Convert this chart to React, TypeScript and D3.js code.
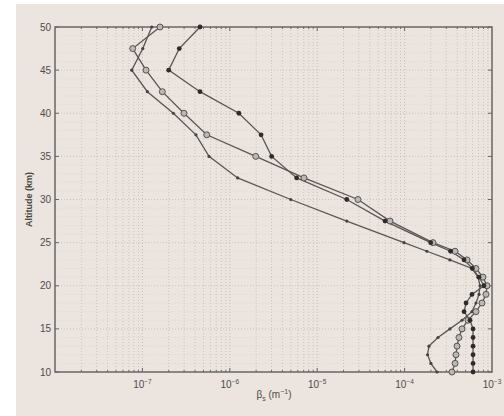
import React from "react";
import * as d3 from "d3";

const altitudes = [50, 47.5, 45, 42.5, 40, 37.5, 35, 32.5, 30, 27.5, 25, 24, 23, 22, 21, 20, 19, 18, 17, 16, 15, 14, 13, 12, 11, 10];

const seriesFilled = [4.56e-7, 2.64e-7, 2.0e-7, 4.56e-7, 1.27e-6, 2.28e-6, 3.01e-6, 5.82e-6, 2.18e-5, 5.97e-5, 1.99e-4, 3.36e-4, 4.79e-4, 5.96e-4, 7.1e-4, 8.09e-4, 5.9e-4, 5.05e-4, 4.79e-4, 5.6e-4, 6.07e-4, 6.07e-4, 6.07e-4, 6.07e-4, 6.07e-4, 6.07e-4];
const seriesOpen = [1.59e-7, 7.74e-8, 1.1e-7, 1.69e-7, 2.99e-7, 5.45e-7, 1.98e-6, 7.06e-6, 2.93e-5, 6.81e-5, 2.11e-4, 3.78e-4, 5.18e-4, 6.56e-4, 7.88e-4, 8.77e-4, 8.53e-4, 7.69e-4, 6.56e-4, 5.31e-4, 4.54e-4, 4.19e-4, 3.98e-4, 3.87e-4, 3.78e-4, 3.48e-4];
const seriesDot = [1.28e-7, 1.01e-7, 7.55e-8, 1.14e-7, 2.26e-7, 4.1e-7, 5.78e-7, 1.23e-6, 4.98e-6, 2.18e-5, 9.84e-5, 1.8e-4, 3.3e-4, 5.9e-4, 6.92e-4, 7.3e-4, 7.1e-4, 6.56e-4, 5.9e-4, 4.54e-4, 3.3e-4, 2.41e-4, 1.9e-4, 1.83e-4, 2.0e-4, 2.35e-4];

const yTicks = [10, 15, 20, 25, 30, 35, 40, 45, 50];
const xTickExps = [-7, -6, -5, -4, -3];

const W = 504, H = 416;
const L = 55, R = 492, T = 27, B = 372;

export default function App() {
  const x = d3.scaleLog().domain([1e-8, 1e-3]).range([L, R]);
  const y = d3.scaleLinear().domain([10, 50]).range([B, T]);

  const minorX: number[] = [];
  for (let e = -8; e < -3; e++) {
    for (let k = 1; k <= 9; k++) {
      const v = k * Math.pow(10, e);
      if (v > 1e-8 && v < 1e-3) minorX.push(v);
    }
  }
  const minorY = d3.range(11, 50, 1);

  const line = d3
    .line<[number, number]>()
    .x((d) => x(d[0]))
    .y((d) => y(d[1]));

  const mk = (vals: number[]) => vals.map((v, i) => [v, altitudes[i]] as [number, number]);
  const lineColor = "#5a5656";
  const isMajor = (v: number) => Math.abs(Math.log10(v) - Math.round(Math.log10(v))) < 1e-9;

  return (
    <svg width={W} height={H} style={{ position: "absolute", left: 0, top: 0, fontFamily: "Liberation Sans, Arial, sans-serif" }}>
      <rect x={0} y={0} width={W} height={H} fill="#ffffff" />
      <rect x={16} y={4} width={W - 16} height={H - 4} fill="#ebe4df" />
      {/* grid */}
      {minorY.map((a) => (
        <line key={"hy" + a} x1={L} x2={R} y1={y(a)} y2={y(a)} stroke="#b5afaa" strokeWidth={0.6} strokeDasharray="1,2" opacity={a % 5 === 0 ? 1 : 0.4} />
      ))}
      {minorX.map((v, i) => (
        <line key={"vx" + i} x1={x(v)} x2={x(v)} y1={T} y2={B} stroke="#b3ada8" strokeWidth={0.7} strokeDasharray="1,2" opacity={isMajor(v) ? 1 : 0.8} />
      ))}
      {/* ticks */}
      {yTicks.map((a) => (
        <g key={"yt" + a}>
          <line x1={L} x2={L + 4} y1={y(a)} y2={y(a)} stroke="#666" strokeWidth={1} />
          <line x1={R} x2={R - 4} y1={y(a)} y2={y(a)} stroke="#666" strokeWidth={1} />
          <text x={51} y={y(a) + 3.5} fontSize={10} fill="#4f4b4b" textAnchor="end">{a}</text>
        </g>
      ))}
      {minorX.map((v, i) => {
        const len = isMajor(v) ? 4 : 2;
        return (
          <g key={"xt" + i}>
            <line x1={x(v)} x2={x(v)} y1={B} y2={B - len} stroke="#666" strokeWidth={1} />
            <line x1={x(v)} x2={x(v)} y1={T} y2={T + len} stroke="#666" strokeWidth={1} />
          </g>
        );
      })}
      {xTickExps.map((e) => (
        <text key={"xl" + e} x={x(Math.pow(10, e))} y={388} fontSize={10} fill="#4f4b4b" textAnchor="middle">
          10<tspan fontSize={6.5} dy={-4}>{"\u2212" + Math.abs(e)}</tspan>
        </text>
      ))}
      {/* frame */}
      <rect x={L} y={T} width={R - L} height={B - T} fill="none" stroke="#6a6666" strokeWidth={1.5} />
      {/* series */}
      <path d={line(mk(seriesDot)) || ""} fill="none" stroke={lineColor} strokeWidth={1.3} />
      <path d={line(mk(seriesOpen)) || ""} fill="none" stroke={lineColor} strokeWidth={1.3} />
      <path d={line(mk(seriesFilled)) || ""} fill="none" stroke={lineColor} strokeWidth={1.3} />
      {mk(seriesDot).map((d, i) => (
        <circle key={"cd" + i} cx={x(d[0])} cy={y(d[1])} r={1.6} fill="#444" />
      ))}
      {mk(seriesOpen).map((d, i) => (
        <circle key={"co" + i} cx={x(d[0])} cy={y(d[1])} r={3} fill="#bdb7b2" stroke="#555" strokeWidth={1} />
      ))}
      {mk(seriesFilled).map((d, i) => (
        <circle key={"cf" + i} cx={x(d[0])} cy={y(d[1])} r={2.4} fill="#2e2b2b" />
      ))}
      {/* axis titles */}
      <text transform={`translate(32,${(T + B) / 2}) rotate(-90)`} fontSize={9} fill="#444" textAnchor="middle" fontWeight="bold">
        Altitude (km)
      </text>
      <text x={274} y={398} fontSize={10} fill="#4f4b4b" textAnchor="middle">
        β<tspan fontSize={7} dy={3}>s</tspan>
        <tspan dy={-3}> (m</tspan>
        <tspan fontSize={7} dy={-4}>{"\u22121"}</tspan>
        <tspan dy={4}>)</tspan>
      </text>
    </svg>
  );
}
